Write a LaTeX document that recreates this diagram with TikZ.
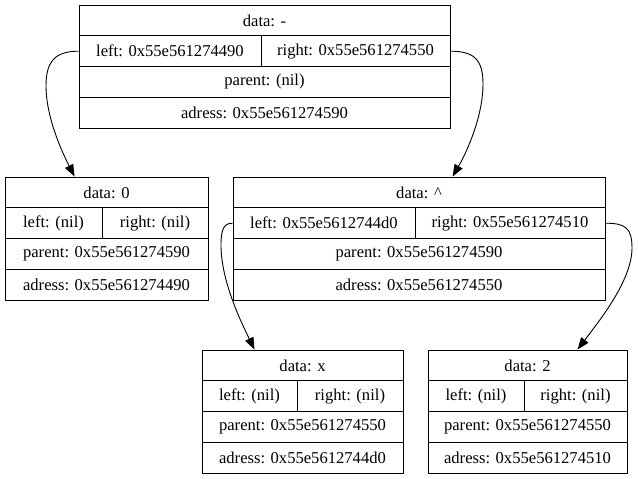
\documentclass[tikz,border=0pt]{standalone}
\usepackage{fontspec}
\setmainfont{Liberation Serif}
\usetikzlibrary{arrows.meta}

\tikzset{
  cell/.style={draw=black, line width=0.9pt, inner sep=0pt, font=\fontsize{16.6}{18}\selectfont},
  link/.style={draw=black, line width=0.9pt, -{Triangle[length=12pt,width=9pt]}}
}

% upper half of a record: data row and left/right row
% #1 name, #2 left x, #3 divider x, #4 right x, #5 top y, #6 data, #7 left, #8 right
\newcommand\recupper[8]{%
  \node[cell, minimum width={#4-#2}, minimum height=30.8] (#1D) at ({(#2+#4)/2},{#5+15.4}) {#6};
  \node[cell, minimum width={#3-#2}, minimum height=30.8] (#1L) at ({(#2+#3)/2},{#5+46.2}) {#7};
  \node[cell, minimum width={#4-#3}, minimum height=30.8] (#1R) at ({(#3+#4)/2},{#5+46.2}) {#8};
}
% lower half of a record: parent row and adress row
% #1 name, #2 left x, #3 right x, #4 top y, #5 parent, #6 adress
\newcommand\reclower[6]{%
  \node[cell, minimum width={#3-#2}, minimum height=30.8] (#1P) at ({(#2+#3)/2},{#4+77}) {#5};
  \node[cell, minimum width={#3-#2}, minimum height=30.8] (#1A) at ({(#2+#3)/2},{#4+107.8}) {#6};
}

\begin{document}
\begin{tikzpicture}[x=1pt,y=-1pt]
\useasboundingbox (0,0) rectangle (638,479);

% root: data -
\recupper{r}{79}{261}{450}{5}{data: -}{left: 0x55e561274490}{right: 0x55e561274550}
\reclower{r}{79}{450}{5}{parent: (nil)}{adress: 0x55e561274590}

% data 0
\recupper{a}{5}{102}{208}{177}{data: 0}{left: (nil)}{right: (nil)}
\reclower{a}{5}{208}{177}{parent: 0x55e561274590}{adress: 0x55e561274490}

% data ^
\recupper{b}{233}{415}{605}{177}{data: \^{}}{left: 0x55e5612744d0}{right: 0x55e561274510}
\reclower{b}{233}{605}{177}{parent: 0x55e561274590}{adress: 0x55e561274550}

% data x
\recupper{c}{202}{297}{403}{350}{data: x}{left: (nil)}{right: (nil)}
\reclower{c}{202}{403}{350}{parent: 0x55e561274550}{adress: 0x55e5612744d0}

% data 2
\recupper{d}{428}{524}{627}{350}{data: 2}{left: (nil)}{right: (nil)}
\reclower{d}{428}{627}{350}{parent: 0x55e561274550}{adress: 0x55e561274510}

% child pointers
\draw[link] (rL.west) .. controls +(-24,0) and (46,62) .. (46,86)
  .. controls (46,115) and (60,148) .. ([xshift=70]aD.north west);
\draw[link] (rR.east) .. controls +(24,0) and (483,60) .. (483,84)
  .. controls (483,115) and (468,150) .. ([xshift=220]bD.north west);
\draw[link] (bL.west) .. controls +(-8,0) and (221,228) .. (221,245)
  .. controls (221,280) and (240,320) .. ([xshift=53]cD.north west);
\draw[link] (bR.east) .. controls +(20,0) and (632,228) .. (632,248)
  .. controls (632,280) and (600,320) .. ([xshift=150]dD.north west);
\end{tikzpicture}
\end{document}
